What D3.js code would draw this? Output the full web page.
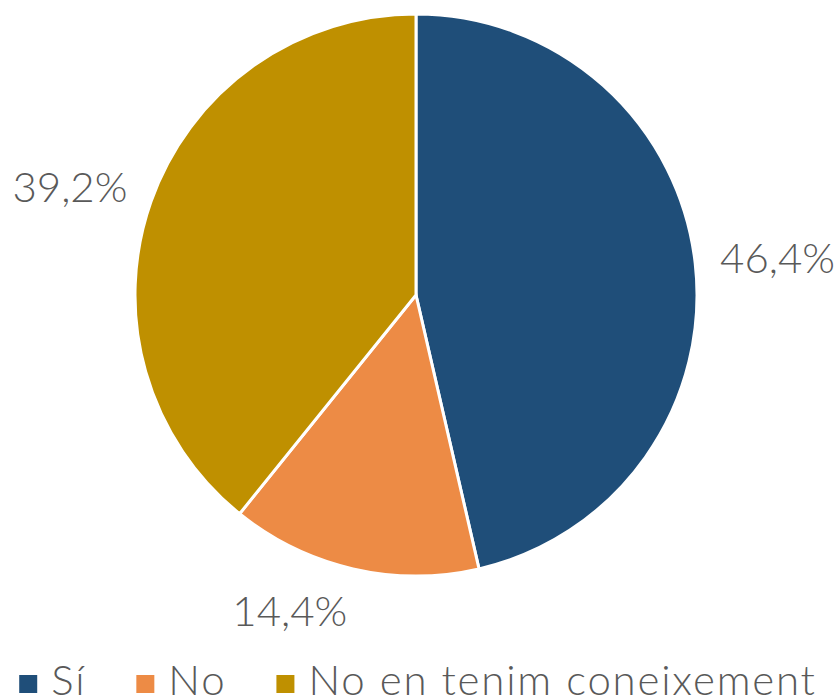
<!DOCTYPE html>
<html>
<head>
<meta charset="utf-8">
<script src="https://cdn.jsdelivr.net/npm/d3@7"></script>
<style>
  body{ margin: 0; background: #fff; }
  text{ font-family: Lato, "Open Sans", sans-serif; font-weight: 300; fill: #595959; }
</style>
</head>
<body>
<script>

var categories = ['Sí', 'No', 'No en tenim coneixement']
  , values = [46.4, 14.4, 39.2]
  , labels = ['46,4%', '14,4%', '39,2%']
  , colors = ['#1F4E79', '#ED8B45', '#BF9000']

var width = 836, height = 699
  , cx = 416, cy = 295, radius = 281, labelR = 306
  , fontSize = 42

var svg = d3.select('body').append('svg')
  .attr('width', width).attr('height', height)

var pie = d3.pie().sort(null).value(function(d){ return d.value })
  , arc = d3.arc().innerRadius(0).outerRadius(radius)
  , data = pie(categories.map(function(c, i){ return {cat: c, value: values[i], label: labels[i]} }))

var g = svg.append('g').attr('transform', 'translate(' + cx + ',' + cy + ')')

g.selectAll('path').data(data).enter().append('path')
  .attr('d', arc)
  .attr('fill', function(d, i){ return colors[i] })
  .attr('stroke', '#fff').attr('stroke-width', 3)

g.selectAll('text.lbl').data(data).enter().append('text')
  .attr('class', 'lbl')
  .style('font-size', fontSize + 'px')
  .each(function(d){
    var a = (d.startAngle + d.endAngle) / 2
      , s = Math.sin(a), c = -Math.cos(a)
    d3.select(this)
      .attr('x', s * labelR).attr('y', c * labelR)
      .attr('dy', (c * 0.45 + 0.35) + 'em')
      .attr('text-anchor', s > 0.1 ? 'start' : s < -0.1 ? 'end' : 'middle')
      .text(d.data.label)
  })

// legend
var legend = svg.append('g')
  , x = 0, gap = 50
categories.forEach(function(c, i){
  var it = legend.append('g')
  it.append('rect').attr('width', 18).attr('height', 18).attr('y', -20).attr('fill', colors[i])
  var t = it.append('text').attr('x', 32)
    .style('font-size', fontSize + 'px').style('letter-spacing', '1.8px').text(c)
  var w = 32 + t.node().getComputedTextLength()
  it.attr('transform', 'translate(' + x + ',0)')
  x += w + gap
})
x -= gap
legend.attr('transform', 'translate(' + ((width - x) / 2) + ',695)')

</script>
</body>
</html>
